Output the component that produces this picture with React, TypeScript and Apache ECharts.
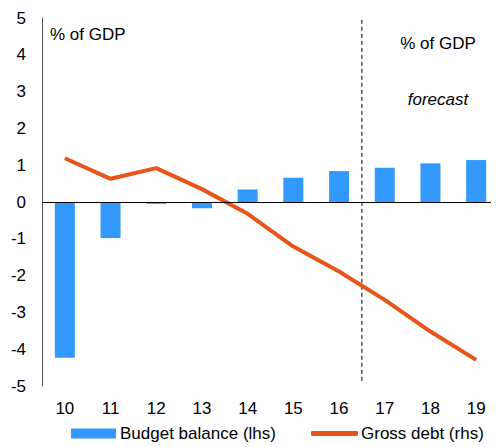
import React, { useEffect, useRef } from "react";
import * as echarts from "echarts";

const categories = ["10", "11", "12", "13", "14", "15", "16", "17", "18", "19"];
const budgetBalance = [-4.23, -0.98, -0.05, -0.17, 0.34, 0.66, 0.84, 0.93, 1.05, 1.14];
const grossDebt = [1.19, 0.63, 0.92, 0.35, -0.32, -1.21, -1.89, -2.66, -3.52, -4.29];
const yTicks = { min: -5, max: 5, interval: 1 };
const forecastStartIndex = 7;

const FONT = "'Liberation Sans', Arial, sans-serif";
const FS = 17;

export default function App() {
  const ref = useRef<HTMLDivElement>(null);
  useEffect(() => {
    if (!ref.current) return;
    const chart = echarts.init(ref.current, undefined, { renderer: "svg" });
    chart.setOption({
      animation: false,
      textStyle: { fontFamily: FONT },
      grid: { left: 42, top: 18, width: 459, height: 368, containLabel: false },
      xAxis: {
        type: "category",
        data: categories,
        axisLine: { show: false, onZero: false },
        axisTick: { show: false },
        axisLabel: { color: "#000", fontSize: FS, fontFamily: FONT, margin: 14 },
        splitLine: { show: false },
      },
      yAxis: [
        {
          type: "value",
          min: yTicks.min,
          max: yTicks.max,
          interval: yTicks.interval,
          axisLine: { show: true, lineStyle: { color: "#555", width: 1 } },
          axisTick: { show: false },
          axisLabel: { color: "#000", fontSize: FS, fontFamily: FONT, margin: 16 },
          splitLine: { show: false },
        },
        {
          type: "value",
          min: yTicks.min,
          max: yTicks.max,
          interval: yTicks.interval,
          show: false,
          splitLine: { show: false },
        },
      ],
      legend: [
        {
          top: 425,
          left: 71,
          padding: 0,
          itemWidth: 45,
          itemHeight: 10,
          icon: "rect",
          textStyle: { color: "#000", fontSize: FS, fontFamily: FONT, padding: [0, 0, 0, -1] },
          data: ["Budget balance (lhs)"],
        },
        {
          top: 425,
          left: 311,
          padding: 0,
          itemWidth: 47,
          itemHeight: 5,
          icon: "roundRect",
          textStyle: { color: "#000", fontSize: FS, fontFamily: FONT, padding: [0, 0, 0, -2] },
          data: ["Gross debt (rhs)"],
        },
      ],
      series: [
        {
          name: "Budget balance (lhs)",
          type: "bar",
          data: budgetBalance,
          barWidth: 20,
          itemStyle: { color: "#3399FF" },
          yAxisIndex: 0,
          markLine: {
            silent: true,
            symbol: ["none", "none"],
            label: { show: false },
            lineStyle: { color: "#000", width: 1, type: "solid" },
            data: [{ yAxis: 0 }],
          },
          z: 2,
        },
        {
          name: "Gross debt (rhs)",
          type: "line",
          data: grossDebt,
          yAxisIndex: 1,
          symbol: "none",
          lineStyle: { color: "#E8541A", width: 4 },
          itemStyle: { color: "#E8541A" },
          z: 3,
        },
      ],
    });
    const x6 = chart.convertToPixel({ xAxisIndex: 0 }, forecastStartIndex - 1) as number;
    const x7 = chart.convertToPixel({ xAxisIndex: 0 }, forecastStartIndex) as number;
    const xd = (x6 + x7) / 2;
    const yTop = chart.convertToPixel({ yAxisIndex: 0 }, 4.95) as number;
    const yBot = chart.convertToPixel({ yAxisIndex: 0 }, -4.9) as number;
    chart.setOption({
      graphic: [
        {
          type: "line",
          shape: { x1: xd, y1: yTop, x2: xd, y2: yBot },
          style: { stroke: "#000", lineWidth: 1, lineDash: [4, 3] },
          z: 1,
        },
        {
          type: "text",
          x: 50,
          y: 34,
          style: {
            text: "% of GDP",
            fontSize: FS,
            fontFamily: FONT,
            fill: "#000",
            verticalAlign: "middle",
          },
        },
        {
          type: "text",
          x: 438,
          y: 43,
          style: {
            text: "% of GDP",
            fontSize: FS,
            fontFamily: FONT,
            fill: "#000",
            align: "center",
            verticalAlign: "middle",
          },
        },
        {
          type: "text",
          x: 438,
          y: 99,
          style: {
            text: "forecast",
            fontSize: FS,
            fontStyle: "italic",
            fontFamily: FONT,
            fill: "#000",
            align: "center",
            verticalAlign: "middle",
          },
        },
      ],
    });
    return () => chart.dispose();
  }, []);
  return <div ref={ref} style={{ width: 499, height: 447, margin: "-8px 0 0 -8px" }} />;
}
